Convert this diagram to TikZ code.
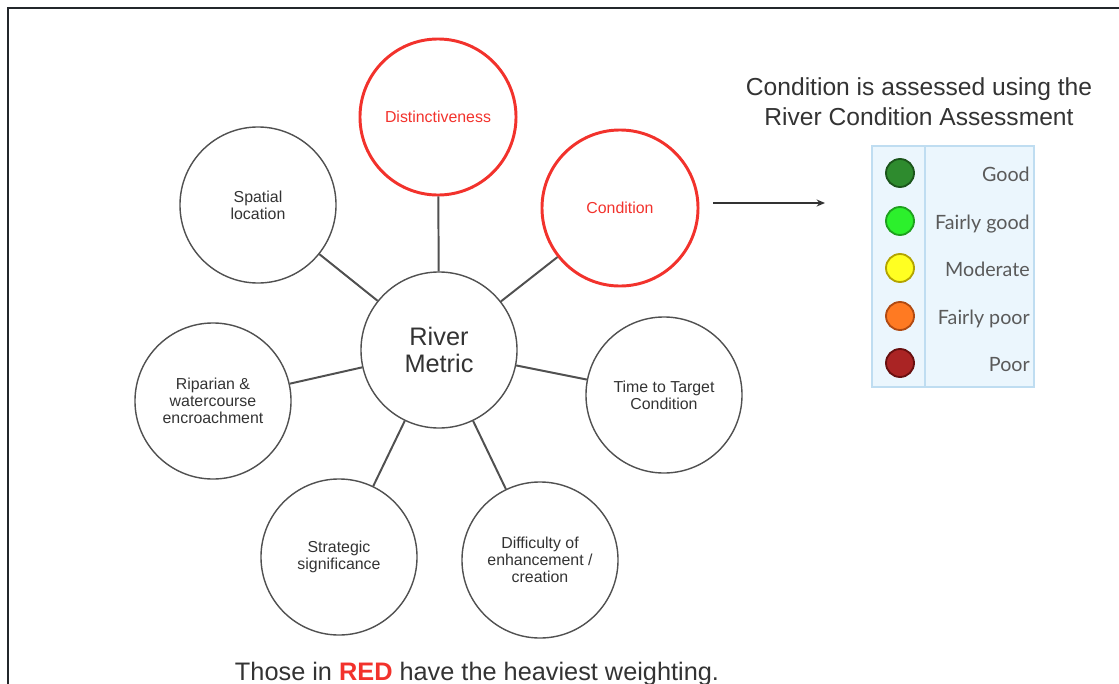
\documentclass[tikz,border=0pt]{standalone}
\usepackage{fontspec}
\setmainfont{Liberation Sans}
\newfontfamily\legendfont{Lato}
\usetikzlibrary{positioning,arrows.meta}
\definecolor{framegrey}{HTML}{23272B}
\definecolor{ringgrey}{HTML}{505050}
\definecolor{txtgrey}{HTML}{333333}
\definecolor{hotred}{HTML}{F2322C}
\definecolor{panelblue}{HTML}{EBF6FD}
\definecolor{paneledge}{HTML}{BFDDF1}
\definecolor{legtxt}{HTML}{5A5A5A}
\definecolor{goodfill}{HTML}{2E8B2E}\definecolor{goodedge}{HTML}{1B551B}
\definecolor{fgoodfill}{HTML}{2CF02C}\definecolor{fgoodedge}{HTML}{1EA01E}
\definecolor{modfill}{HTML}{FFFF22}\definecolor{modedge}{HTML}{B3A400}
\definecolor{fpoorfill}{HTML}{FF7A22}\definecolor{fpooredge}{HTML}{B04A12}
\definecolor{poorfill}{HTML}{AA2424}\definecolor{pooredge}{HTML}{681010}

\begin{document}
\begin{tikzpicture}[x=0.025cm,y=-0.025cm]

\tikzset{metric/.style={circle,draw=ringgrey,line width=1pt,minimum size=3.9cm,inner sep=0pt,align=center,text=txtgrey,font=\fontsize{11.3}{12}\selectfont},
heavy/.style={metric,draw=hotred,line width=2.1pt,text=hotred},
hub/.style={metric,font=\fontsize{18}{19.5}\selectfont},
link/.style={ringgrey,line width=1.4pt},
dot/.style={circle,minimum size=0.7cm,inner sep=0pt,line width=1.3pt},
legendtxt/.style={anchor=base east,yshift=-0.2cm,text=legtxt,font=\legendfont\fontsize{14}{15}\selectfont,inner sep=0pt}}

\useasboundingbox (0,0) rectangle (1119,684);

% Frame
\draw[framegrey,line width=1.8pt] (8,700) -- (8,8) -- (1130,8);

% Metric circles
\node[hub] (rm) at (439,350) {River\\Metric};
\node[heavy] (dist) at (438,117) {Distinctiveness};
\node[heavy] (cond) at (620,208) {Condition};
\node[metric] (spat) at (258,205) {Spatial\\location};
\node[metric] (ripa) at (213,401) {Riparian \&\\watercourse\\encroachment};
\node[metric] (ttc) at (664,395) {Time to Target\\Condition};
\node[metric] (strat) at (339,557) {Strategic\\significance};
\node[metric] (diff) at (540,560) {Difficulty of\\enhancement /\\creation};

% Spokes
\foreach \m in {dist,cond,spat,ripa,ttc,strat,diff} \draw[link] (rm) -- (\m);

% Arrow to the assessment
\coordinate (arrtail) at (713,203);
\coordinate (arrhead) at (825,203);
\draw[txtgrey,line width=0.9pt,-{Stealth[length=6pt,width=5pt]}] (arrtail) -- (arrhead);

% Assessment title
\node[align=center,text=txtgrey,font=\fontsize{17.5}{21.5}\selectfont] (title) at (919,102) {Condition is assessed using the\\River Condition Assessment};

% Assessment panel
\draw[fill=panelblue,draw=paneledge,line width=0.8pt] (872,146) rectangle (1034,387);
\draw[paneledge,line width=0.8pt] (925,146) -- (925,387);
\foreach \y/\fc/\ec/\txt [count=\i] in {173/goodfill/goodedge/Good,221/fgoodfill/fgoodedge/Fairly good,268/modfill/modedge/Moderate,316/fpoorfill/fpooredge/Fairly poor,363/poorfill/pooredge/Poor}
{\node[dot,fill=\fc,draw=\ec] (c\i) at (900,\y) {};
\node[legendtxt] (l\i) at (1030,\y) {\txt};}

% Weighting note
\node[anchor=base,text=txtgrey,font=\fontsize{18}{20}\selectfont,inner sep=0pt] (note) at (477,680) {Those in \textbf{\textcolor{hotred}{RED}} have the heaviest weighting.};

\end{tikzpicture}
\end{document}
